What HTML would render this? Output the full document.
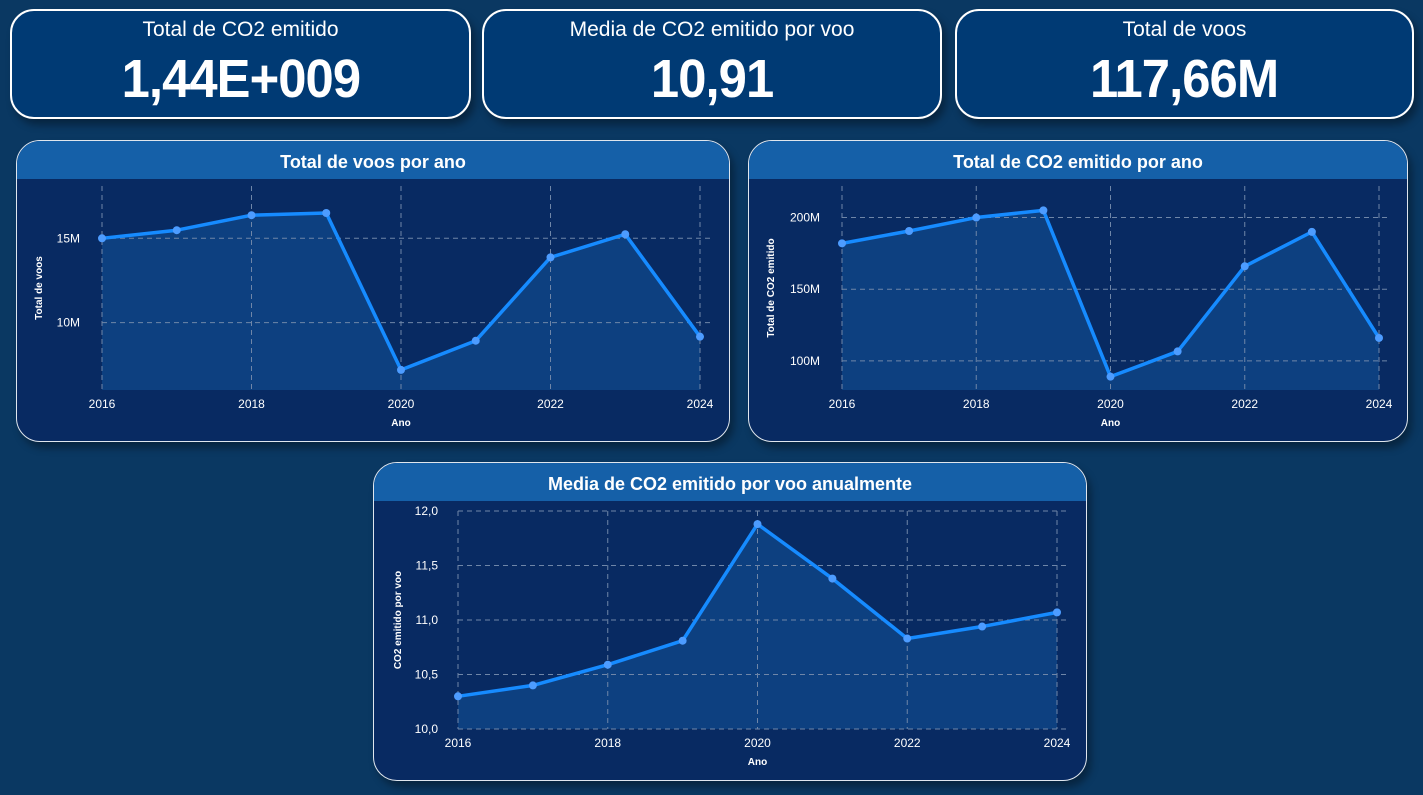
<!DOCTYPE html>
<html><head><meta charset="utf-8"><style>
body{margin:0;width:1423px;height:795px;background:#0a3862;font-family:"Liberation Sans",sans-serif;position:relative;overflow:hidden}
.kpi{position:absolute;top:9px;height:106px;border:2px solid #fff;border-radius:24px;background:#003a74;box-shadow:4px 6px 8px rgba(0,0,0,.35);color:#fff;text-align:center}
.kpi .t{font-size:21px;margin-top:7px}
.kpi .v{font-size:54px;font-weight:bold;margin-top:6px;letter-spacing:-1px;display:inline-block;transform:scaleX(0.94)}
.panel{position:absolute;border:1.5px solid #dfe6ee;border-radius:24px;background:#082a62;overflow:hidden;box-shadow:4px 6px 8px rgba(0,0,0,.35)}
.hdr{height:38px;background:#1560a8;color:#fff;font-weight:bold;font-size:18px;text-align:center;line-height:42px;position:relative;z-index:1}
svg{position:absolute;left:0;top:0}
</style></head><body>
<div class="kpi" style="left:10px;width:457px"><div class="t">Total de CO2 emitido</div><div class="v">1,44E+009</div></div>
<div class="kpi" style="left:482px;width:456px"><div class="t">Media de CO2 emitido por voo</div><div class="v">10,91</div></div>
<div class="kpi" style="left:955px;width:455px"><div class="t">Total de voos</div><div class="v">117,66M</div></div>

<div class="panel" id="p1" style="left:16px;top:140px;width:712px;height:300px"><div class="hdr">Total de voos por ano</div></div>
<div class="panel" id="p2" style="left:748px;top:140px;width:658px;height:300px"><div class="hdr">Total de CO2 emitido por ano</div></div>
<div class="panel" id="p3" style="left:373px;top:462px;width:712px;height:317px"><div class="hdr">Media de CO2 emitido por voo anualmente</div></div>

<script>
const years=[2016,2017,2018,2019,2020,2021,2022,2023,2024];
const xTicks=[2016,2018,2020,2022,2024];
const flights=[15.0,15.48,16.37,16.5,7.2,8.93,13.87,15.24,9.17];
const flightTicks=[10,15];
const flightTickLabels=["10M","15M"];
const co2=[182,190.6,200,205,89,106.6,166,190,116];
const co2Ticks=[100,150,200];
const co2TickLabels=["100M","150M","200M"];
const avg=[10.30,10.40,10.59,10.81,11.88,11.38,10.83,10.94,11.07];
const avgTicks=[10.0,10.5,11.0,11.5,12.0];
const avgTickLabels=["10,0","10,5","11,0","11,5","12,0"];
const NS="http://www.w3.org/2000/svg";
function mk(tag,at,parent){const e=document.createElementNS(NS,tag);for(const k in at)e.setAttribute(k,at[k]);parent.appendChild(e);return e;}
function chart(pid,o){
 const p=document.getElementById(pid);
 const W=p.clientWidth,H=p.clientHeight;
 const s=mk('svg',{width:W,height:H},p);
 const sx=v=>o.x0+(v-2016)/(2024-2016)*(o.x1-o.x0);
 const sy=v=>o.yb+(v-o.ymin)/(o.ymax-o.ymin)*(o.yt-o.yb);
 let pts=o.data.map((v,i)=>sx(years[i])+','+sy(v));
 const a=mk('polygon',{points:sx(2016)+','+o.yb+' '+pts.join(' ')+' '+sx(2024)+','+o.yb,fill:'#0d4080'},s);
 
 xTicks.forEach(t=>{const l=mk('line',{x1:sx(t),x2:sx(t),y1:o.yt,y2:o.yb,stroke:'#6f86a8','stroke-width':1,'stroke-dasharray':'5,4'},s);
  
  const tx=mk('text',{x:sx(t),y:o.yb+18,fill:'#fff','font-size':12,'text-anchor':'middle'},s);tx.textContent=t;
  });
 o.ticks.forEach((t,i)=>{const l=mk('line',{x1:o.x0,x2:o.x1+10,y1:sy(t),y2:sy(t),stroke:'#6f86a8','stroke-width':1,'stroke-dasharray':'5,4'},s);
  
  const tx=mk('text',{x:o.x0-o.lg,y:sy(t)+4,fill:'#fff','font-size':12,'text-anchor':'end'},s);tx.textContent=o.labels[i];
  });
 const pl=mk('polyline',{points:pts.join(' '),fill:'none',stroke:'#168bff','stroke-width':3.5,'stroke-linejoin':'round'},s);
 
 o.data.forEach((v,i)=>{const c=mk('circle',{cx:sx(years[i]),cy:sy(v),r:4,fill:'#4d9cff'},s);
  });
 const xt=mk('text',{x:sx(2020),y:o.yb+36,fill:'#fff','font-size':10,'font-weight':'bold','text-anchor':'middle'},s);xt.textContent='Ano';
 
 const yc=(o.yt+o.yb)/2;
 const yt=mk('text',{x:o.ytx,y:yc,fill:'#fff','font-size':10,'font-weight':'bold','text-anchor':'middle',transform:`rotate(-90 ${o.ytx} ${yc})`},s);yt.textContent=o.ytitle;
 
 p.insertBefore(s,p.firstChild);
}
chart('p1',{x0:85,x1:683,yt:45,yb:249,ymin:6.01,ymax:18.1,data:flights,ticks:flightTicks,labels:flightTickLabels,ytitle:'Total de voos',ytx:25,lg:22});
chart('p2',{x0:93,x1:630,yt:45,yb:249,ymin:79.7,ymax:222,data:co2,ticks:co2Ticks,labels:co2TickLabels,ytitle:'Total de CO2 emitido',ytx:25,lg:22});
chart('p3',{x0:84,x1:683,yt:48,yb:266,ymin:10,ymax:12,data:avg,ticks:avgTicks,labels:avgTickLabels,ytitle:'CO2 emitido por voo',ytx:27,lg:20});
</script>
</body></html>
